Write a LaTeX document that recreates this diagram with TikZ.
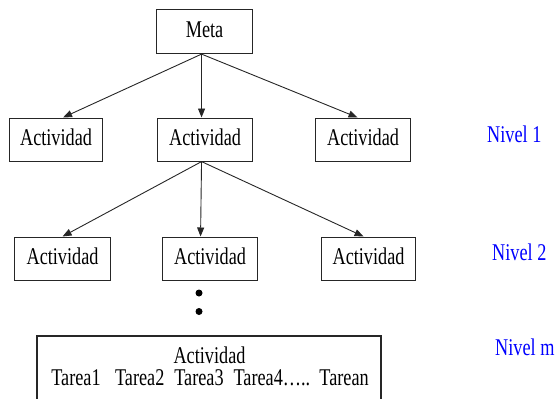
\documentclass[tikz,border=0pt]{standalone}
\usepackage{fontspec}
\setmainfont{Liberation Serif}
\usetikzlibrary{arrows.meta}
\newcommand{\nrw}[1]{\scalebox{0.76}[1]{#1}}
\begin{document}
\begin{tikzpicture}[x=1pt,y=-1pt,
  txt/.style={font=\rmfamily\fontsize{24}{26}\selectfont},
  box/.style={txt, draw=black!85, line width=1.1pt, inner sep=0pt,
    minimum height=43pt, anchor=north west, text height=16pt, text depth=4pt},
  lvl/.style={txt, text=blue, anchor=base west, inner sep=0pt},
  arr/.style={draw=black!85, line width=0.9pt, -{Triangle[length=9pt,width=7pt]}},
  dotm/.style={circle, fill=black, inner sep=0pt, minimum width=6pt, minimum height=7pt}]
\useasboundingbox (0,0) rectangle (560,399);
\clip (0,0) rectangle (560,399);
% boxes
\node[box, minimum width=96pt, minimum height=44pt] (meta) at (156,9) {\nrw{Meta}};
\node[box, minimum width=93pt] (a1) at (9,117.5) {\nrw{Actividad}};
\node[box, minimum width=95pt] (a2) at (157,117.5) {\nrw{Actividad}};
\node[box, minimum width=95pt] (a3) at (315,117.5) {\nrw{Actividad}};
\node[box, minimum width=96pt] (b1) at (14,236.5) {\nrw{Actividad}};
\node[box, minimum width=95pt] (b2) at (162,236.5) {\nrw{Actividad}};
\node[box, minimum width=94pt] (b3) at (321,236.5) {\nrw{Actividad}};
% level labels
\node[lvl] (n1) at (487,142.7) {\nrw{Nivel 1}};
\node[lvl] (n2) at (492,260.7) {\nrw{Nivel 2}};
\node[lvl] (nm) at (495,355) {\nrw{Nivel m}};
% arrows level 1
\draw[arr] ([xshift=-3pt]meta.south) -- ([xshift=7pt]a1.north);
\draw[arr] ([xshift=-3pt]meta.south) -- ([xshift=-3.5pt]a2.north);
\draw[arr] ([xshift=-3pt]meta.south) -- ([xshift=-5.5pt]a3.north);
% arrows level 2
\draw[arr] ([xshift=-3.5pt]a2.south) -- (b1.north);
\draw[arr] ([xshift=-3.5pt]a2.south) -- ([xshift=-9.5pt]b2.north);
\draw[arr] ([xshift=-3.5pt]a2.south) -- ([xshift=-5pt]b3.north);
% dots
\node[dotm] (d1) at (199,293) {};
\node[dotm] (d2) at (199,311.5) {};
% bottom box
\draw[draw=black!85, line width=1.1pt] (37,336) rectangle (381,420);
\node[txt, anchor=base, inner sep=0pt] (botA) at (209.5,363) {\nrw{Actividad}};
\node[txt, anchor=base, inner sep=0pt] (botB) at (210,385) {\nrw{Tarea1\hspace{19pt}Tarea2\hspace{13pt}Tarea3\hspace{13pt}Tarea4….. \hspace{4pt}Tarean}};
\end{tikzpicture}
\end{document}
